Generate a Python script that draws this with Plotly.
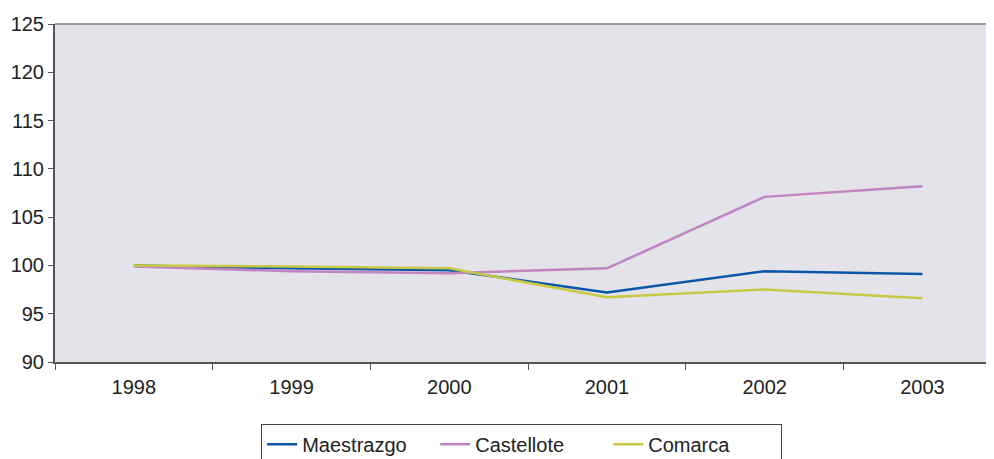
import plotly.graph_objects as go

years = ["1998", "1999", "2000", "2001", "2002", "2003"]
maestrazgo = [100.0, 99.7, 99.5, 97.2, 99.4, 99.1]
castellote = [99.9, 99.4, 99.2, 99.7, 107.1, 108.2]
comarca = [100.0, 99.9, 99.7, 96.7, 97.5, 96.6]

series = [
    ("Maestrazgo", maestrazgo, "#0b56a8"),
    ("Castellote", castellote, "#c283c4"),
    ("Comarca", comarca, "#c9c844"),
]

fig = go.Figure()
for name, vals, color in series:
    fig.add_trace(go.Scatter(
        x=years, y=vals, name=name, mode="lines",
        line=dict(color=color, width=2.5),
    ))

fig.update_layout(
    width=986, height=451,
    margin=dict(l=47, r=0, t=16, b=97, autoexpand=False),
    paper_bgcolor="white",
    plot_bgcolor="#e4e3e9",
    font=dict(family="Liberation Sans, Arial, sans-serif", size=20, color="#222222"),
    showlegend=True,
    legend=dict(
        orientation="h", x=0.497, xanchor="center", y=-0.183, yanchor="top",
        bordercolor="#444444", borderwidth=1, bgcolor="white",
        font=dict(size=20), itemwidth=30, tracegroupgap=0,
        entrywidth=128, entrywidthmode="pixels",
    ),
    xaxis=dict(
        type="category", range=[-0.5, 5.454], automargin=False,
        showgrid=False, zeroline=False,
        showline=True, linecolor="#555555", linewidth=2,
        ticks="outside", tickson="boundaries", ticklen=6, tickcolor="#555555",
        tickfont=dict(size=20), ticklabelstandoff=6,
    ),
    yaxis=dict(
        range=[90, 125], dtick=5, tick0=90, automargin=False,
        showgrid=False, zeroline=False,
        showline=True, linecolor="#555555", linewidth=2,
        ticks="outside", ticklen=5, tickcolor="#555555",
        tickfont=dict(size=20),
    ),
    shapes=[dict(type="line", xref="paper", yref="paper", x0=0, x1=1, y0=1, y1=1,
                 line=dict(color="#9a9a9a", width=2))],
)

fig.write_html("out.html")
